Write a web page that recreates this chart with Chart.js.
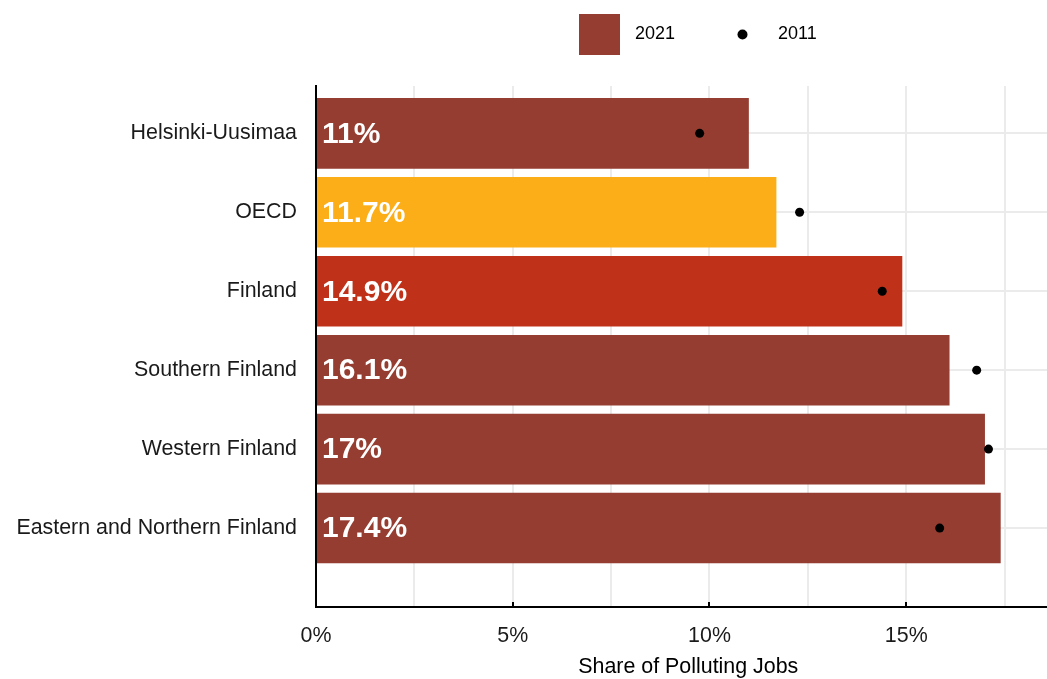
<!DOCTYPE html>
<html><head><meta charset="utf-8">
<script src="https://cdn.jsdelivr.net/npm/chart.js@4.4.1/dist/chart.umd.min.js"></script>
<style>html,body{margin:0;padding:0;overflow:hidden;background:#fff}canvas{display:block}</style>
</head><body>
<canvas id="c" width="1065" height="679" style="width:1065px;height:679px"></canvas>
<script>
// ---- data ----
const categories = ['Helsinki-Uusimaa', 'OECD', 'Finland', 'Southern Finland', 'Western Finland', 'Eastern and Northern Finland'];
const values2021 = [11, 11.7, 14.9, 16.1, 17, 17.4];
const values2011 = [9.75, 12.29, 14.39, 16.79, 17.09, 15.85];
const barColors = ['#953D30', '#FBAE17', '#BF3219', '#953D30', '#953D30', '#953D30'];
const seriesNames = ['2021', '2011'];
const xGridValues = [0, 2.5, 5, 7.5, 10, 12.5, 15, 17.5];
const xTickValues = [0, 5, 10, 15];
const xTickLabels = ['0%', '5%', '10%', '15%'];
const axisTitle = 'Share of Polluting Jobs';

// ---- font choice ----
function hasFont(name) {
  const c = document.createElement('canvas').getContext('2d');
  const s = 'Eastern and Northern Finland 2021';
  c.font = '40px monospace'; const a = c.measureText(s).width;
  c.font = '40px "' + name + '", monospace'; const b = c.measureText(s).width;
  return Math.abs(a - b) > 0.5;
}
let FAM, SZ, LSZ;
if (hasFont('Liberation Sans Narrow')) { FAM = '"Liberation Sans Narrow"'; SZ = 26; LSZ = 22; }
else if (hasFont('Arial Narrow')) { FAM = '"Arial Narrow"'; SZ = 26; LSZ = 22; }
else { FAM = '"Liberation Sans", Arial, sans-serif'; SZ = 21.4; LSZ = 18; }

// ---- legend keys ----
const half = LSZ / 2;
const psw = 56 - half;
function keyCanvas(kind) {
  const cv = document.createElement('canvas');
  cv.width = psw; cv.height = 41;
  const g = cv.getContext('2d');
  if (kind === 'bar') { g.fillStyle = '#953D30'; g.fillRect(0, 0, 41, 41); }
  else { g.fillStyle = '#000'; g.beginPath(); g.arc(20.5, 20.5, 5, 0, Math.PI * 2); g.fill(); }
  return cv;
}
const mctx = document.createElement('canvas').getContext('2d');
mctx.font = LSZ + 'px ' + FAM;
const tw1 = mctx.measureText(seriesNames[0]).width;
const legendPad = 722 - 579 - (psw + half + tw1);

const legendPlacer = {
  id: 'legendPlacer',
  beforeInit(chart) {
    const lg = chart.legend;
    const fit = lg.fit;
    lg.fit = function () { fit.call(this); this.height = 86; };
  },
  afterLayout(chart) {
    const lg = chart.legend;
    lg.left = 579 - legendPad;
    lg.top = 34.5 - half - legendPad;
  }
};

// small inward tick marks on the x axis at labelled values
const innerTicks = {
  id: 'innerTicks',
  afterDraw(chart) {
    const sx = chart.scales.x, ctx = chart.ctx, b = chart.chartArea.bottom;
    ctx.save();
    ctx.strokeStyle = '#000'; ctx.lineWidth = 2;
    xTickValues.forEach(v => {
      const px = Math.round(sx.getPixelForValue(v));
      ctx.beginPath(); ctx.moveTo(px, b); ctx.lineTo(px, b - 5); ctx.stroke();
    });
    ctx.restore();
  }
};

const barLabels = {
  id: 'barLabels',
  afterDatasetsDraw(chart) {
    const meta = chart.getDatasetMeta(0);
    const ctx = chart.ctx;
    ctx.save();
    ctx.font = 'bold 30px "Liberation Sans", Arial, sans-serif';
    ctx.fillStyle = '#fff';
    ctx.textAlign = 'left';
    ctx.textBaseline = 'middle';
    meta.data.forEach((el, i) => {
      ctx.fillText(values2021[i] + '%', chart.chartArea.left + 6, el.y + 1);
    });
    ctx.restore();
  }
};

new Chart(document.getElementById('c'), {
  data: {
    datasets: [
      {
        type: 'bar', label: seriesNames[0], order: 1,
        data: values2021.map((v, i) => ({ x: v, y: i + 1 })),
        backgroundColor: barColors, borderWidth: 0,
        categoryPercentage: 1, barPercentage: 0.894
      },
      {
        type: 'scatter', label: seriesNames[1], order: 0,
        data: values2011.map((v, i) => ({ x: v, y: i + 1 })),
        backgroundColor: '#000', borderColor: '#000', pointRadius: 4.5, borderWidth: 0
      }
    ]
  },
  options: {
    indexAxis: 'y',
    responsive: false,
    animation: false,
    layout: { padding: 0 },
    scales: {
      x: {
        type: 'linear', min: 0, max: 18.92, offset: false,
        afterBuildTicks: s => { s.ticks = xGridValues.map(v => ({ value: v })); },
        afterFit: s => { s.height = 72; },
        ticks: {
          autoSkip: false, maxRotation: 0, padding: 16, color: '#1a1a1a',
          font: { family: FAM, size: SZ },
          callback: v => { const k = xTickValues.indexOf(v); return k >= 0 ? xTickLabels[k] : ''; }
        },
        grid: { color: '#ebebeb', lineWidth: 2, drawTicks: false, offset: false },
        border: { color: '#000', width: 2 },
        title: { display: true, text: axisTitle, color: '#000', font: { family: FAM, size: SZ, lineHeight: 1 }, padding: { top: 0, bottom: 1 } }
      },
      y: {
        type: 'linear', reverse: true, min: 0.4, max: 7, offset: false,
        afterBuildTicks: s => { s.ticks = categories.map((_, i) => ({ value: i + 1 })); },
        afterFit: s => { s.width = 316; },
        ticks: {
          padding: 19, color: '#1a1a1a', font: { family: FAM, size: SZ },
          callback: v => categories[v - 1] || ''
        },
        grid: { color: '#ebebeb', lineWidth: 2, drawTicks: false, offset: false },
        border: { color: '#000', width: 2 }
      }
    },
    plugins: {
      tooltip: { enabled: false },
      legend: {
        position: 'top', align: 'start',
        labels: {
          usePointStyle: true, pointStyleWidth: psw, padding: legendPad,
          color: '#1a1a1a', font: { family: FAM, size: LSZ },
          generateLabels: () => [
            { text: seriesNames[0], pointStyle: keyCanvas('bar'), fillStyle: '#953D30', strokeStyle: 'rgba(0,0,0,0)', lineWidth: 0, hidden: false, datasetIndex: 0 },
            { text: seriesNames[1], pointStyle: keyCanvas('dot'), fillStyle: '#000', strokeStyle: 'rgba(0,0,0,0)', lineWidth: 0, hidden: false, datasetIndex: 1 }
          ]
        }
      }
    }
  },
  plugins: [legendPlacer, innerTicks, barLabels]
});
</script>
</body></html>
